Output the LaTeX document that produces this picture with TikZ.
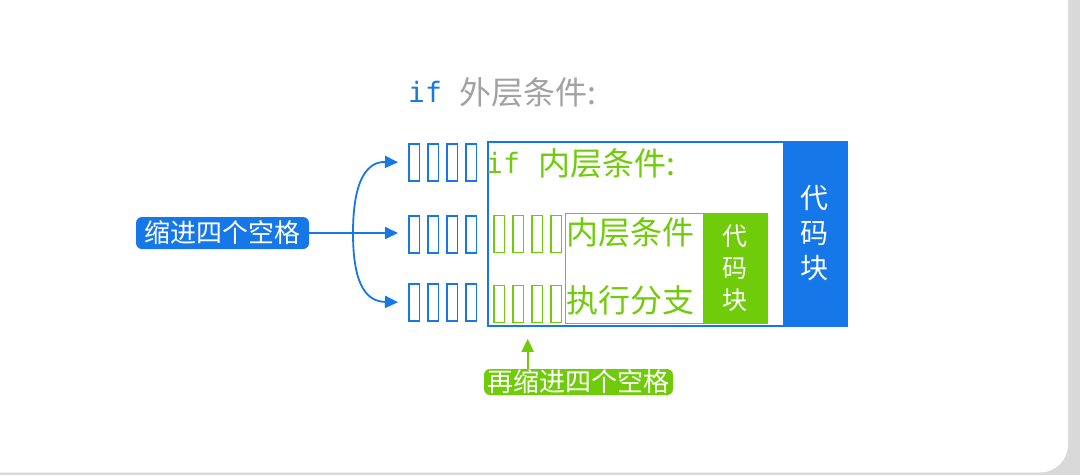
\documentclass[tikz,border=0pt]{standalone}
\usepackage{fontspec}
\setmainfont{Noto Sans CJK SC}
\newfontfamily\monof{DejaVu Sans Mono}
\usetikzlibrary{arrows.meta,calc}
\definecolor{cblue}{HTML}{1677E8}
\definecolor{cgreen}{HTML}{70CC0A}
\definecolor{cgrey}{HTML}{A2A2A2}
\definecolor{cbg}{HTML}{D9D9D9}
\begin{document}
\begin{tikzpicture}[x=1pt,y=-1pt,
  tofu/.style={draw=#1, line width=1.9pt, minimum width=10.5pt, minimum height=37pt, inner sep=0pt, anchor=north west},
  frame/.style={draw=#1, line width=1.8pt, inner sep=0pt, anchor=north west},
  block/.style={fill=#1, text=white, inner sep=0pt, anchor=north west, align=center},
  tag/.style={fill=#1, text=white, rounded corners=6pt, inner sep=0pt, font=\fontsize{26}{26}\selectfont},
  arr/.style={draw=#1, line width=1.8pt, -{Triangle[length=13pt,width=12pt]}},
  cjk/.style={inner sep=0pt, anchor=west, font=\fontsize{32}{32}\selectfont},
  kw/.style={inner sep=0pt, font=\monof\fontsize{28}{28}\selectfont}]
\useasboundingbox (0,0) rectangle (1080,475);
\fill[cbg] (0,0) rectangle (1080,475);
\fill[white, rounded corners=28pt] (-40,-40) rectangle (1068,472.5);

% outer condition
\node[kw, text=cblue] (if1) at (425,92) {if};
\node[cjk, text=cgrey] (cond1) at (459,92) {外层条件:};

% outer frame and block
\node[frame=cblue, minimum width=359pt, minimum height=184pt] (outer) at (487,141) {};
\node[block=cblue, minimum width=63pt, minimum height=185pt, font=\fontsize{28}{35}\selectfont] (blk1) at (783,140.5) {代\\码\\块};

% inner condition
\node[kw, text=cgreen] (if2) at (503,163) {if};
\node[cjk, text=cgreen] (cond2) at (538,163) {内层条件:};

% inner frame and block
\node[frame=cgreen, line width=1.4pt, minimum width=202pt, minimum height=110pt] (inner) at (565,213) {};
\node[block=cgreen, minimum width=64pt, minimum height=110pt, font=\fontsize{25}{32}\selectfont] (blk2) at (703,213) {代\\码\\块};
\node[cjk, text=cgreen] (t1) at (566,232) {内层条件};
\node[cjk, text=cgreen] (t2) at (566,300) {执行分支};

% tofu boxes
\foreach \r/\y in {1/143,2/215,3/283}{
  \foreach \i/\x in {1/408,2/427,3/446,4/465}{
    \node[tofu=cblue] (b\r\i) at (\x,\y) {};
  }
}
\foreach \r/\y in {2/214.5,3/284.5}{
  \foreach \i/\x in {1/493,2/512,3/531,4/550}{
    \node[tofu=cgreen] (g\r\i) at (\x,\y) {};
  }
}

% labels
\node[tag=cblue, minimum width=173pt, minimum height=32pt] (lab1) at (222.5,233) {缩进四个空格};
\node[tag=cgreen, minimum width=189pt, minimum height=26pt] (lab2) at (578.5,382) {再缩进四个空格};

% arrows
\coordinate (fork) at (353,233);
\draw[arr=cblue, shorten >=10pt] (lab1.east) -- (lab1.east -| b21.west);
\draw[arr=cblue, shorten >=10pt] (fork) .. controls (353,178) and (368,161.5) .. (b11.west);
\draw[arr=cblue, shorten >=10pt] (fork) .. controls (353,288) and (368,301.5) .. (b31.west);
\coordinate (gtip) at ($(g31.west)!0.5!(g34.east)$);
\draw[arr=cgreen, shorten >=12pt] (lab2.north -| gtip) -- (gtip |- outer.south);
\end{tikzpicture}
\end{document}
